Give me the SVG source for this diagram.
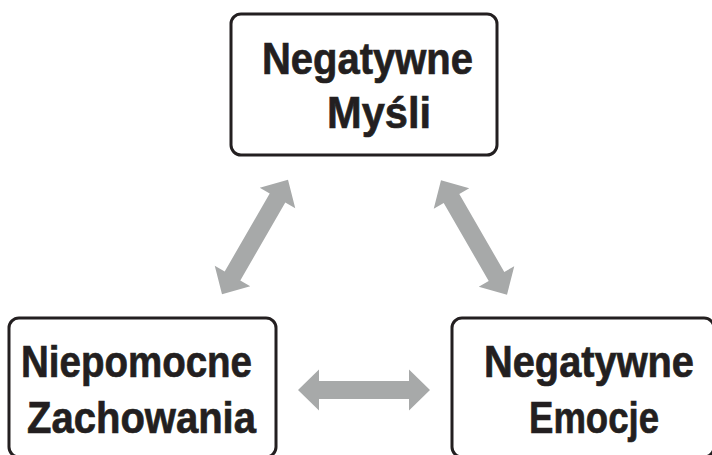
<svg xmlns="http://www.w3.org/2000/svg" xmlns:xlink="http://www.w3.org/1999/xlink" width="712" height="455" viewBox="0 0 712 455">
<style>
.box{fill:#fff;stroke:#231f20;stroke-width:3}
.lbl{font-family:"Liberation Sans",Arial,sans-serif;font-weight:bold;font-size:45px;fill:#231f20;stroke:#231f20;stroke-width:0.7}
.arr{fill:#a7a9a9}
</style>
<defs>
<polygon id="dbl" points="-66,0 -45,-20.5 -45,-9 45,-9 45,-20.5 66,0 45,20.5 45,9 -45,9 -45,20.5"/>
</defs>
<rect width="712" height="455" fill="#fff"/>
<g id="connectors" class="arr">
<use xlink:href="#dbl" transform="translate(255,237) rotate(-60)"/>
<use xlink:href="#dbl" transform="translate(474,237.5) rotate(60)"/>
<use xlink:href="#dbl" transform="translate(364,390)"/>
</g>
<g id="node-mysli">
<rect class="box" x="231" y="14" width="266" height="141" rx="10"/>
<text class="lbl" x="262" y="74" textLength="211" lengthAdjust="spacingAndGlyphs">Negatywne</text>
<text class="lbl" x="327" y="128" textLength="104" lengthAdjust="spacingAndGlyphs">Myśli</text>
</g>
<g id="node-zachowania">
<rect class="box" x="9" y="318" width="267" height="139" rx="10"/>
<text class="lbl" x="21" y="377" textLength="231" lengthAdjust="spacingAndGlyphs">Niepomocne</text>
<text class="lbl" x="27" y="433" textLength="229" lengthAdjust="spacingAndGlyphs">Zachowania</text>
</g>
<g id="node-emocje">
<rect class="box" x="452" y="318" width="262" height="139" rx="10"/>
<text class="lbl" x="484" y="377" textLength="210" lengthAdjust="spacingAndGlyphs">Negatywne</text>
<text class="lbl" x="529" y="433" textLength="130" lengthAdjust="spacingAndGlyphs">Emocje</text>
</g>
</svg>
